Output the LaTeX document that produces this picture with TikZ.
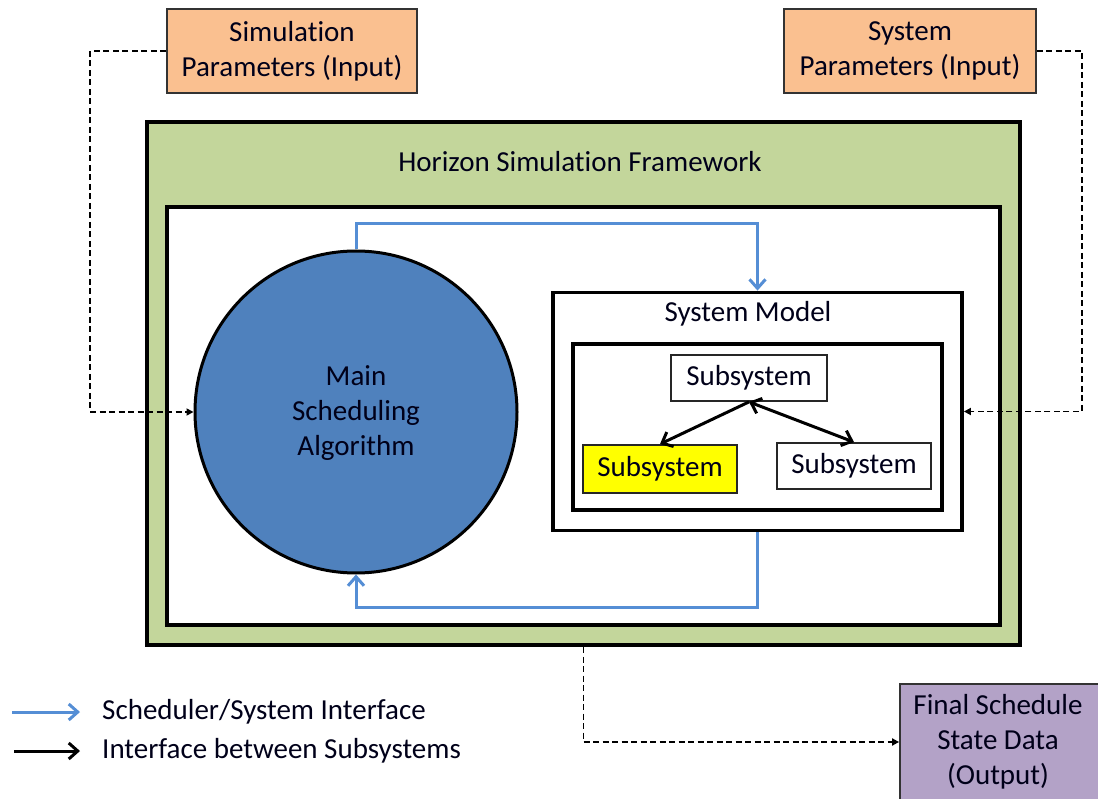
\documentclass[tikz,border=0pt]{standalone}
\usepackage{fontspec}
\setmainfont{Carlito}[Ligatures={NoCommon}]
\usetikzlibrary{arrows.meta,shapes.geometric}
\definecolor{paramfill}{HTML}{FAC090}
\definecolor{framefill}{HTML}{C3D69B}
\definecolor{algofill}{HTML}{4F81BD}
\definecolor{ifaceblue}{HTML}{558ED5}
\definecolor{outfill}{HTML}{B3A2C7}
\definecolor{subyellow}{HTML}{FFFF00}
\tikzset{
  subbarb/.tip={Straight Barb[length=9pt,width=16pt,line width=3pt]},
  every node/.style={font=\fontsize{29}{35}\selectfont, text=black!90!blue},
  parambox/.style={draw=black!80, line width=1.8pt, fill=paramfill, rectangle, align=center,
    minimum width=250pt, minimum height=84pt, inner sep=0pt},
  heavybox/.style={draw=black, line width=3.8pt, rectangle, inner sep=0pt},
  subbox/.style={draw=black!85, line width=1.8pt, fill=white, rectangle, inner sep=0pt,
    minimum width=154pt, minimum height=46pt},
  txt/.style={inner sep=0pt, align=center},
  dashconn/.style={draw=black, line width=1.7pt, dash pattern=on 6pt off 3.5pt,
    -{Triangle[length=7pt,width=7pt]}},
  blueconn/.style={draw=ifaceblue, line width=3pt, -{Straight Barb[length=9pt,width=16pt,line width=3pt]}},
  blackconn/.style={draw=black, line width=3pt},
}
\begin{document}
\begin{tikzpicture}[x=1pt,y=-1pt]
\useasboundingbox (0,0) rectangle (1098,799);
\clip (0,0) rectangle (1098,799);

% input parameter boxes
\node[parambox] (sim) at (292,51) {Simulation\\Parameters (Input)};
\node[parambox, minimum width=252pt] (sys) at (910,51) {System\\Parameters (Input)};

% framework and its inner area
\node[heavybox, fill=framefill, line width=4.2pt, minimum width=873pt, minimum height=523pt] (frame) at (583.5,383.5) {};
\node[txt] (framelabel) at (580,162) {Horizon Simulation Framework};
\node[heavybox, fill=white, minimum width=833pt, minimum height=418pt] (inner) at (583.5,416) {};

% scheduler
\node[circle, draw=black, line width=3pt, fill=algofill, minimum size=322pt, inner sep=0pt, align=center] (main) at (356,412) {};
\node[txt] (maintext) at (356,413) {Main\\Scheduling\\Algorithm};

% system model
\node[heavybox, fill=white, minimum width=409pt, minimum height=238pt] (model) at (757.5,411.5) {};
\node[txt] (modellabel) at (748,314) {System Model};
\node[heavybox, fill=white, minimum width=369pt, minimum height=166pt] (subs) at (757.5,427) {};
\node[subbox, minimum width=156pt] (subtop) at (749,378) {Subsystem};
\node[subbox, fill=subyellow, minimum height=48pt] (subleft) at (660,469) {Subsystem};
\node[subbox] (subright) at (854,466) {Subsystem};

% output box
\node[rectangle, draw=black!80, line width=1.8pt, fill=outfill, minimum width=220pt, minimum height=116pt, inner sep=0pt] (final) at (1010,742) {};
\node[txt] (finaltext) at (998,742) {Final Schedule\\State Data\\(Output)};

% subsystem interfaces
\draw[blackconn, -{subbarb}] (subtop.south) -- (subleft.north);
\draw[blackconn, {subbarb}-{subbarb}] (subtop.south) -- (subright.north);

% scheduler / system interface
\draw[blueconn] (main.north) -- ++(0,-26) -| (model.north);
\draw[blueconn] (model.south) -- ++(0,75) -| (main.south);

% inputs and output
\draw[dashconn] (sim.west) -- ++(-76,0) |- (main.west);
\draw[dashconn] (sys.east) -- ++(45,0) |- (model.east);
\draw[dashconn] (frame.south) |- (final.west);

% legend
\coordinate (lb0) at (12,712);
\coordinate (lb1) at (80,712);
\coordinate (lk0) at (14,751);
\coordinate (lk1) at (80,751);
\draw[blueconn] (lb0) -- (lb1);
\draw[blackconn, -{subbarb}] (lk0) -- (lk1);
\node[txt, anchor=west] (legblue) at (102,712) {Scheduler/System Interface};
\node[txt, anchor=west] (legblack) at (102,751) {Interface between Subsystems};
\end{tikzpicture}
\end{document}
